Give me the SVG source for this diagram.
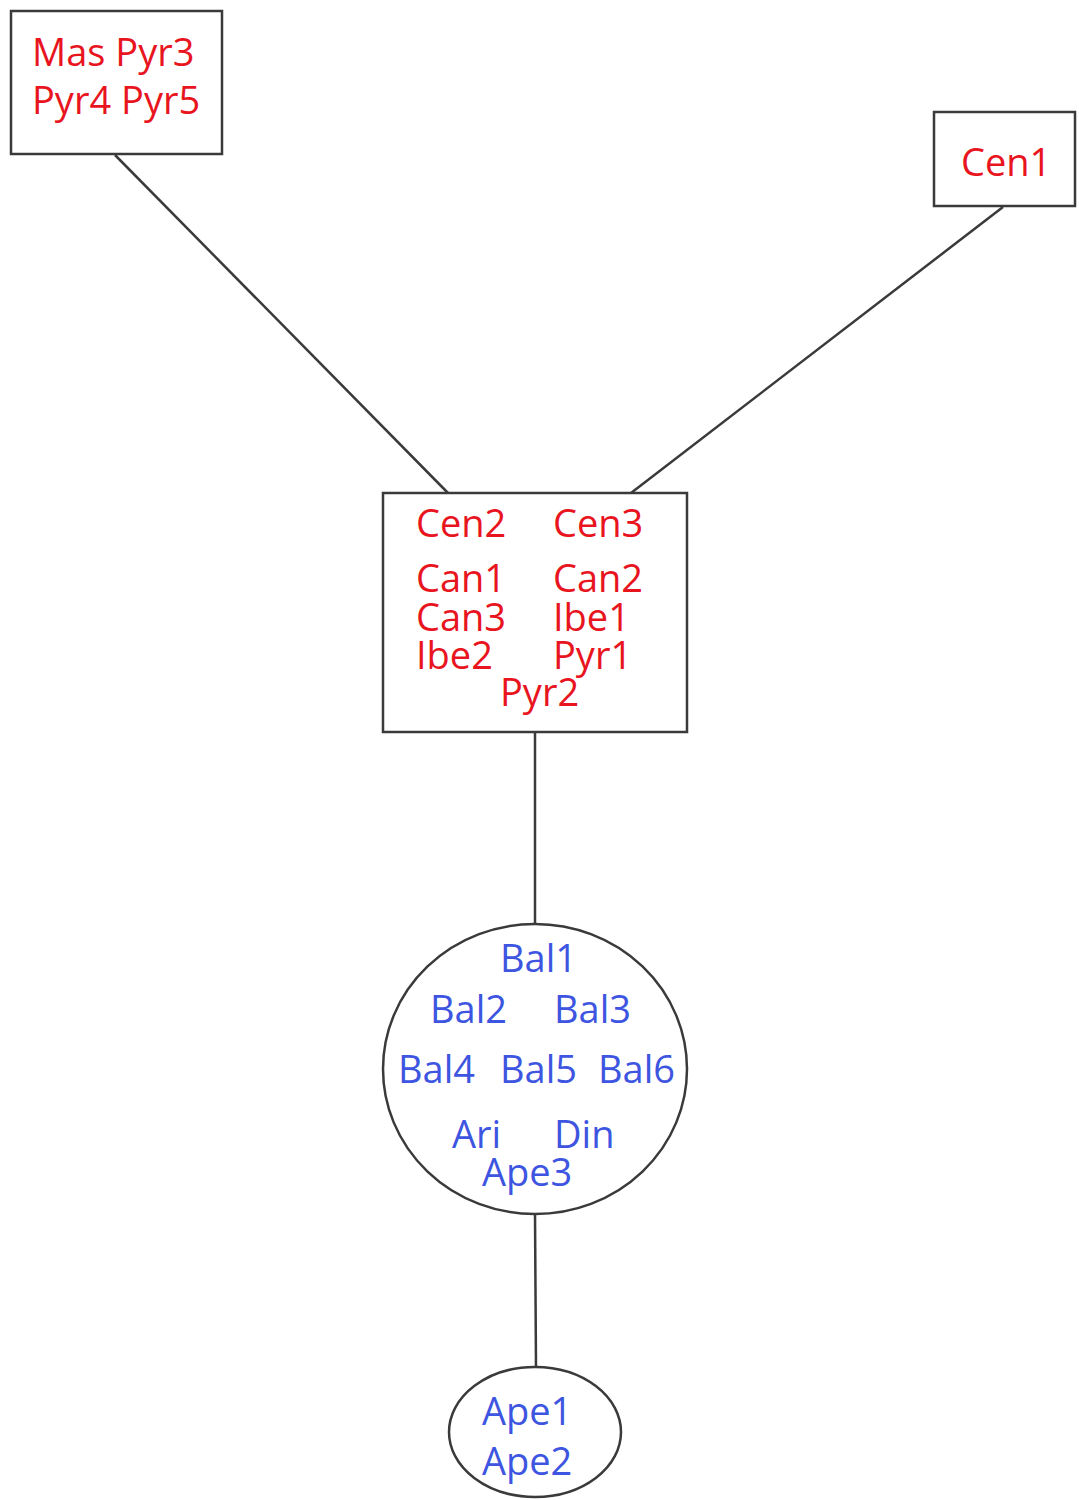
<svg xmlns="http://www.w3.org/2000/svg" width="1079" height="1500" viewBox="0 0 1079 1500">
<style>
.node{fill:#fff;stroke:#3a3a3a;stroke-width:2.5}
.edge{stroke:#3a3a3a;stroke-width:2.5;fill:none}
.r{fill:#e8141e;font-family:"Open Sans","Noto Sans",sans-serif;font-size:38px}
.b{fill:#3d55e0;font-family:"Open Sans","Noto Sans",sans-serif;font-size:38px}
</style>
<rect width="1079" height="1500" fill="#fff"/>
<g id="connectors">
<line class="edge" x1="115" y1="155" x2="448" y2="493"/>
<line class="edge" x1="1003" y1="207" x2="631" y2="493"/>
<line class="edge" x1="535" y1="732" x2="535" y2="925"/>
<line class="edge" x1="535" y1="1214" x2="536" y2="1367"/>
</g>
<g id="node-mas">
<rect class="node" x="11" y="11" width="211" height="143"/>
<text class="r" x="32" y="66">Mas Pyr3</text>
<text class="r" x="32" y="114">Pyr4 Pyr5</text>
</g>
<g id="node-cen1">
<rect class="node" x="934" y="112" width="141" height="94"/>
<text class="r" x="961" y="176">Cen1</text>
</g>
<g id="node-center">
<rect class="node" x="383" y="493" width="304" height="239"/>
<text class="r" x="416" y="537">Cen2</text>
<text class="r" x="553" y="537">Cen3</text>
<text class="r" x="416" y="592">Can1</text>
<text class="r" x="553" y="592">Can2</text>
<text class="r" x="416" y="631">Can3</text>
<text class="r" x="553" y="631">Ibe1</text>
<text class="r" x="416" y="669">Ibe2</text>
<text class="r" x="553" y="669">Pyr1</text>
<text class="r" x="500" y="706">Pyr2</text>
</g>
<g id="node-bal">
<ellipse class="node" cx="535" cy="1069" rx="152" ry="145"/>
<text class="b" x="500" y="972">Bal1</text>
<text class="b" x="430" y="1023">Bal2</text>
<text class="b" x="554" y="1023">Bal3</text>
<text class="b" x="398" y="1083">Bal4</text>
<text class="b" x="500" y="1083">Bal5</text>
<text class="b" x="598" y="1083">Bal6</text>
<text class="b" x="452" y="1148">Ari</text>
<text class="b" x="554" y="1148">Din</text>
<text class="b" x="482" y="1186">Ape3</text>
</g>
<g id="node-ape">
<ellipse class="node" cx="535" cy="1432" rx="86" ry="65"/>
<text class="b" x="482" y="1425">Ape1</text>
<text class="b" x="482" y="1475">Ape2</text>
</g>
</svg>
